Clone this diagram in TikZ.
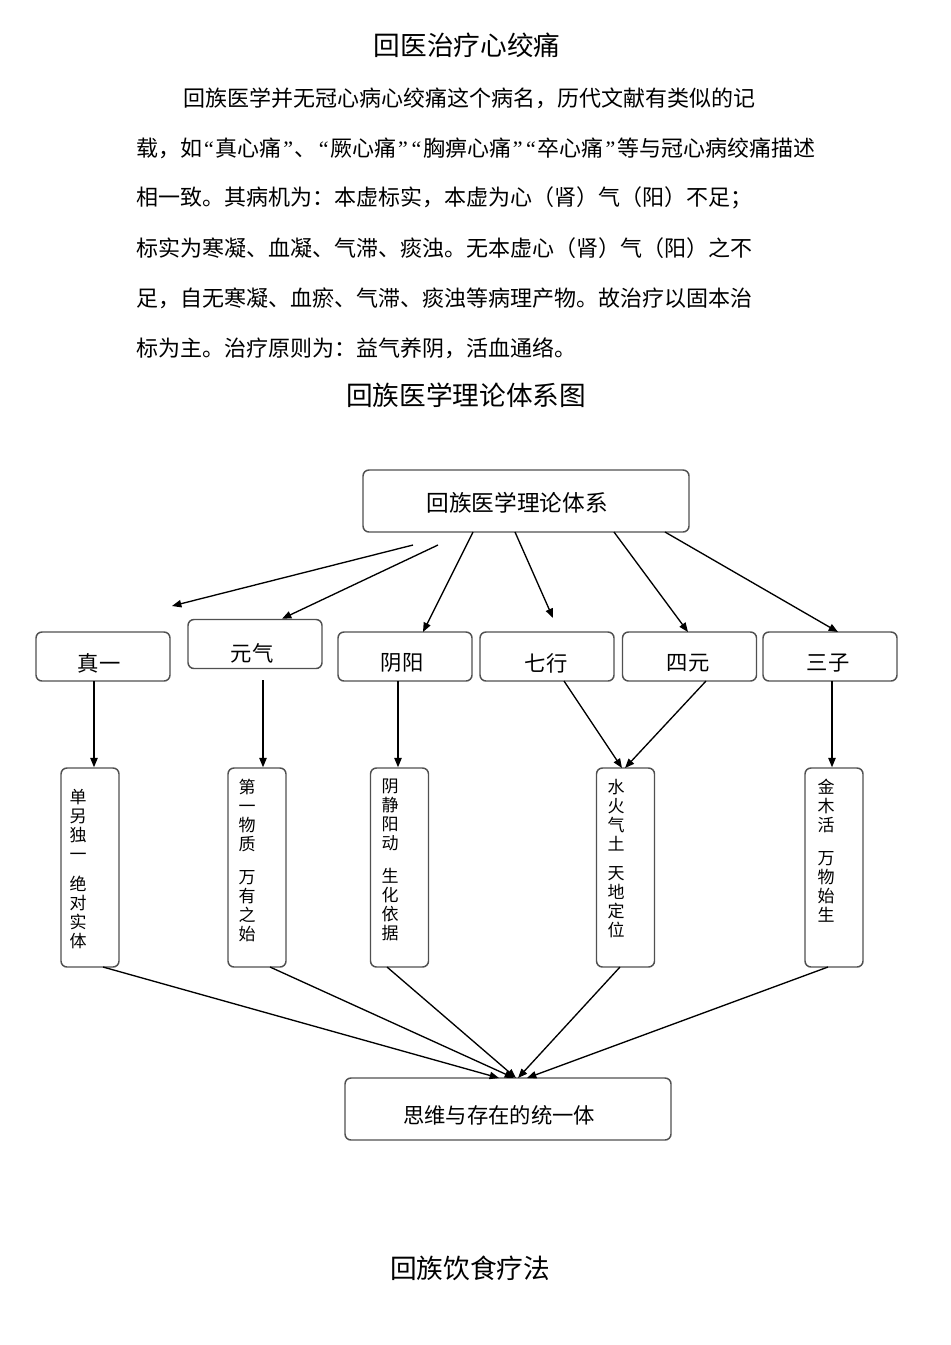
\documentclass[tikz,border=0pt]{standalone}
\usepackage{fontspec}
\setmainfont{Noto Sans CJK SC}
\newfontfamily\qfont{Liberation Serif}
\newcommand{\ql}{\kern1.35pt{\qfont “}\kern1.35pt}
\newcommand{\qr}{\kern1.35pt{\qfont ”}\kern1.35pt}
\usetikzlibrary{arrows.meta}
\definecolor{boxgray}{HTML}{505050}
\begin{document}
\begin{tikzpicture}[x=0.75pt,y=-0.75pt,
  box/.style={draw=boxgray, line width=1.1pt, rounded corners=4.5pt, inner sep=0pt, fill=white},
  hbox/.style={box, minimum width=100.5pt, minimum height=36.75pt},
  vbox/.style={box, minimum width=43.5pt, minimum height=149.25pt},
  bigbox/.style={box, minimum width=244.5pt, minimum height=46.5pt},
  arr/.style={-{Triangle[length=7pt,width=5.5pt]}, line width=1pt, black},
  body/.style={anchor=west, inner sep=0pt, font=\fontsize{16.5}{18}\selectfont},
  ttl/.style={inner sep=0pt, font=\fontsize{20}{22}\selectfont},
  lbl/.style={inner sep=0pt, font=\fontsize{16}{18}\selectfont},
  vtxt/.style={anchor=north, inner sep=0pt, align=center, font=\fontsize{12.75}{14.25}\selectfont}]
\useasboundingbox (0,0) rectangle (950,1345);
\fill[white] (0,0) rectangle (950,1345);

% titles and paragraph
\node[ttl] (t1) at (467,45) {回医治疗心绞痛};
\node[body] (p1) at (183,98) {回族医学并无冠心病心绞痛这个病名，历代文献有类似的记};
\node[body] (p2) at (136,148) {载，如\ql 真心痛\qr 、\ql 厥心痛\qr\ql 胸痹心痛\qr\ql 卒心痛\qr 等与冠心病绞痛描述};
\node[body] (p3) at (136,198) {相一致。其病机为：本虚标实，本虚为心（肾）气（阳）不足；};
\node[body] (p4) at (136,248) {标实为寒凝、血凝、气滞、痰浊。无本虚心（肾）气（阳）之不};
\node[body] (p5) at (136,298) {足，自无寒凝、血瘀、气滞、痰浊等病理产物。故治疗以固本治};
\node[body] (p6) at (136,348) {标为主。治疗原则为：益气养阴，活血通络。};
\node[ttl] (t2) at (466,395) {回族医学理论体系图};
\node[ttl] (t3) at (470,1268) {回族饮食疗法};

% top box
\node[bigbox] (top) at (526,501) {};
\node[lbl, font=\fontsize{17}{19}\selectfont] (topt) at (517,503) {回族医学理论体系};

% row boxes
\node[hbox] (zy) at (103,656.5) {};
\node[hbox] (yq) at (255,644) {};
\node[hbox] (yy) at (405,656.5) {};
\node[hbox] (qx) at (547,656.5) {};
\node[hbox] (sy) at (689.5,656.5) {};
\node[hbox] (sz) at (830,656.5) {};
\node[lbl] (zyt) at (99,663) {真一};
\node[lbl] (yqt) at (252,653) {元气};
\node[lbl] (yyt) at (402,663) {阴阳};
\node[lbl] (qxt) at (546,663) {七行};
\node[lbl] (syt) at (688,663) {四元};
\node[lbl] (szt) at (828,663) {三子};

% vertical boxes
\node[vbox] (b1) at (90,867.5) {};
\node[vbox] (b2) at (257,867.5) {};
\node[vbox] (b3) at (399.5,867.5) {};
\node[vbox] (b4) at (625.5,867.5) {};
\node[vbox] (b5) at (834,867.5) {};
\node[vtxt] (b1t) at (78,789.5) {单\\另\\独\\一\\[8.25pt]绝\\对\\实\\体};
\node[vtxt] (b2t) at (247,778.5) {第\\一\\物\\质\\[10.5pt]万\\有\\之\\始};
\node[vtxt] (b3t) at (390,778.5) {阴\\静\\阳\\动\\[10.5pt]生\\化\\依\\据};
\node[vtxt] (b4t) at (616,778.5) {水\\火\\气\\土\\[7.5pt]天\\地\\定\\位};
\node[vtxt] (b5t) at (826,778.5) {金\\木\\活\\[10.5pt]万\\物\\始\\生};

% bottom box
\node[bigbox] (bot) at (508,1109) {};
\node[lbl] (bott) at (499,1115) {思维与存在的统一体};

% coordinates for connector ends
\coordinate (s1) at (413,545);
\coordinate (e1) at (172,606);
\coordinate (s2) at (438,545);
\coordinate (s3) at (473,532);
\coordinate (e3) at (423,632);
\coordinate (s4) at (515,532);
\coordinate (e4) at (553,618);
\coordinate (s5) at (614,532);
\coordinate (e5) at (688,632);
\coordinate (s6) at (665,532);
\coordinate (e6) at (838,632);

\draw[arr] (s1) -- (e1);
\draw[arr] (s2) -- (yq.north -| 282,0);
\draw[arr] (s3) -- (e3);
\draw[arr] (s4) -- (e4);
\draw[arr] (s5) -- (e5);
\draw[arr] (s6) -- (e6);

% down arrows
\coordinate (d1) at (94,681);
\coordinate (d2) at (263,680);
\coordinate (d3) at (398,681);
\coordinate (d4a) at (564,681);
\coordinate (d4b) at (706,681);
\coordinate (d5) at (832,681);
\draw[arr] (d1) -- (d1 |- b1.north);
\draw[arr] (d2) -- (d2 |- b2.north);
\draw[arr] (d3) -- (d3 |- b3.north);
\draw[arr] (d4a) -- (622,768);
\draw[arr] (d4b) -- (625,768);
\draw[arr] (d5) -- (d5 |- b5.north);

% to bottom box
\draw[arr] (103,967) -- (499,1078);
\draw[arr] (270,967) -- (514,1078);
\draw[arr] (387,967) -- (516,1078);
\draw[arr] (620,967) -- (518,1078);
\draw[arr] (828,967) -- (527,1078);
\end{tikzpicture}
\end{document}
